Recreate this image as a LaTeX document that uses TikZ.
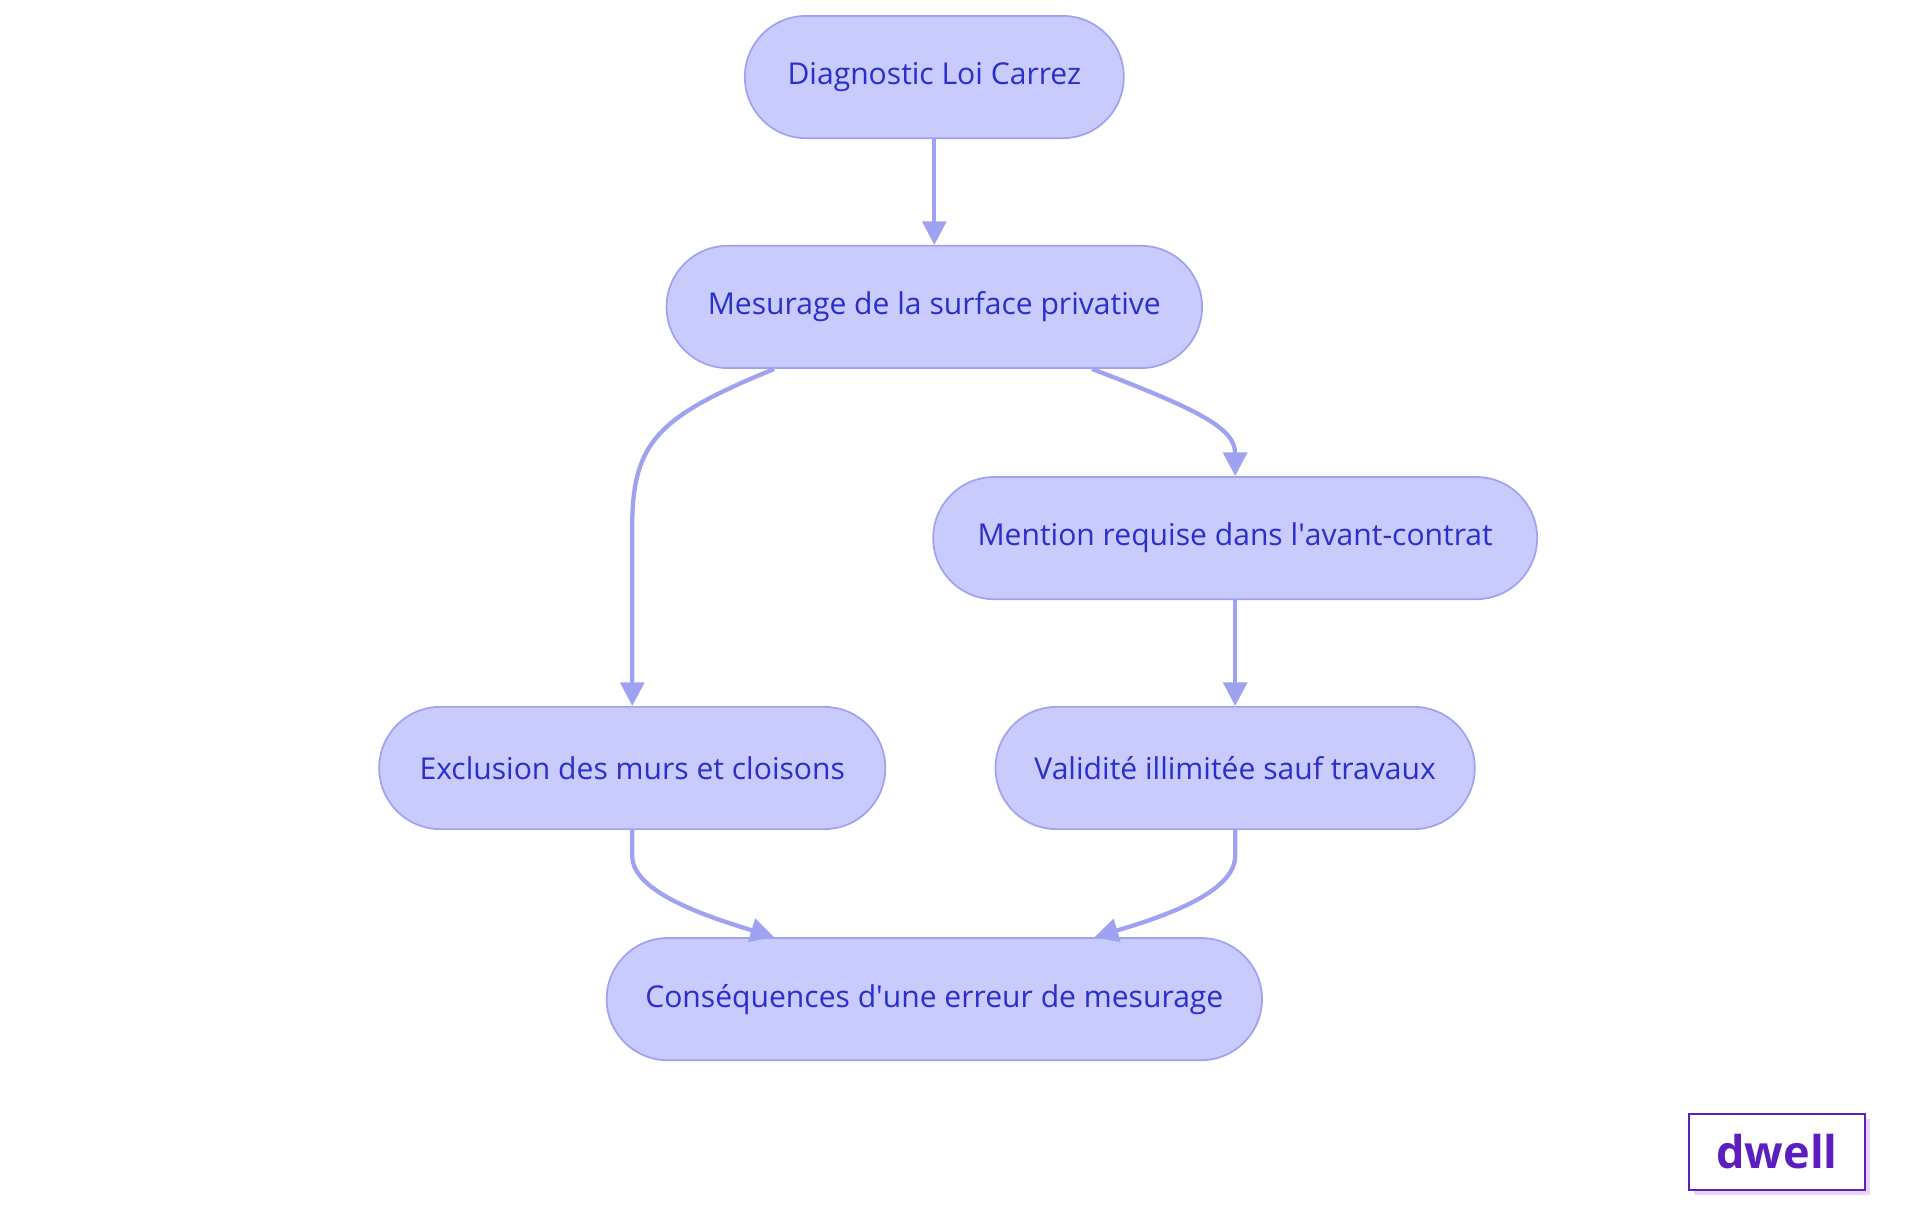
\documentclass[tikz,border=0pt]{standalone}
\usepackage{fontspec}
\setmainfont{Open Sans}
\usetikzlibrary{arrows.meta,positioning,calc}
\definecolor{flowfill}{RGB}{201,203,253}
\definecolor{flowline}{RGB}{158,162,240}
\definecolor{flowtext}{RGB}{42,47,204}
\definecolor{dwellpurple}{RGB}{92,30,190}
\definecolor{dwellshadow}{RGB}{232,214,250}

\begin{document}
\begin{tikzpicture}[x=0.02cm, y=-0.02cm, >={Triangle[length=11pt,width=11pt]},
  pbox/.style={draw=flowline,fill=flowfill,rounded corners=1cm,line width=0.8pt,
               minimum height=2cm,font=\fontsize{14}{16}\selectfont,text=flowtext,inner sep=0pt},
  link/.style={->,flowline,line width=2pt}]
  \useasboundingbox (0,0) rectangle (1570,993);
  \node[pbox,minimum width=6.2cm]  (diag) at (764,63)   {Diagnostic Loi Carrez};
  \node[pbox,minimum width=8.76cm] (mes)  at (764,251)  {Mesurage de la surface privative};
  \node[pbox,minimum width=9.88cm] (ment) at (1010,440) {Mention requise dans l\textquotesingle avant-contrat};
  \node[pbox,minimum width=8.28cm] (excl) at (517,628)  {Exclusion des murs et cloisons};
  \node[pbox,minimum width=7.84cm] (val)  at (1010,628) {Validité illimitée sauf travaux};
  \node[pbox,minimum width=10.72cm] (cons) at (764,817) {Conséquences d\textquotesingle une erreur de mesurage};
  \coordinate (mesL) at ($(mes.south)+(-131,0)$);
  \coordinate (mesR) at ($(mes.south)+(129,0)$);
  \coordinate (consL) at ($(cons.north)+(-131,0)$);
  \coordinate (consR) at ($(cons.north)+(131,0)$);
  \draw[link] (diag) -- (mes);
  \draw[link] (mesL) .. controls (540,340) and (517,360) .. (517,430) -- (excl.north);
  \draw[link] (mesR) .. controls (980,335) and (1010,350) .. (ment.north);
  \draw[link] (ment) -- (val);
  \draw[link] (excl.south) -- (517,700) .. controls (517,730) and (580,750) .. (consL);
  \draw[link] (val.south) -- (1010,700) .. controls (1010,730) and (950,750) .. (consR);
  % logo
  \fill[dwellshadow] (1385,915) rectangle (1529,977);
  \node[draw=dwellpurple,fill=white,line width=1pt,minimum width=2.88cm,minimum height=1.24cm,
        text=dwellpurple,font=\fontsize{21}{24}\selectfont\bfseries] (logo) at (1453,942) {dwell};
\end{tikzpicture}
\end{document}
